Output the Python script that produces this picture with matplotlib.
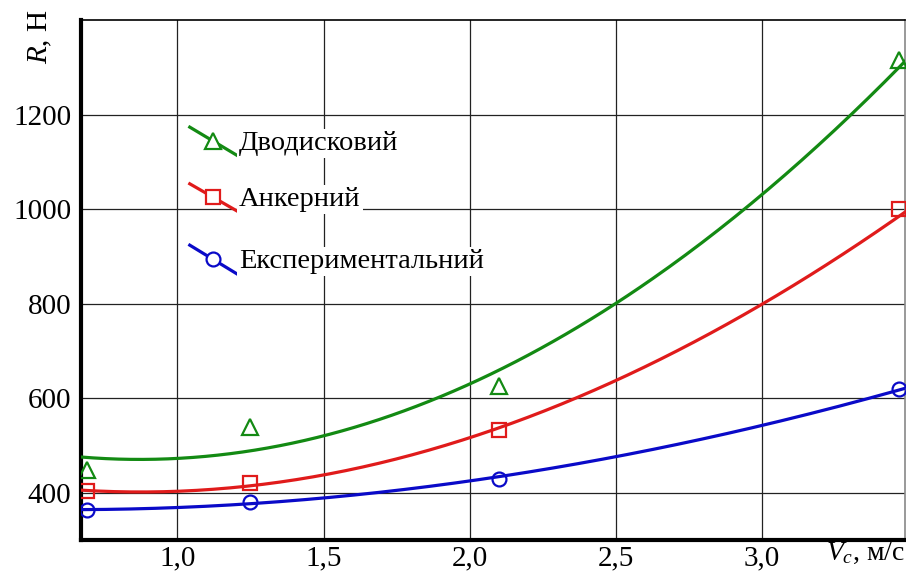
import numpy as np
import matplotlib
matplotlib.use("Agg")
import matplotlib.pyplot as plt

# measured points (speed, m/s -> resistance, N)
v_points = [0.69, 1.25, 2.1, 3.47]
r_dvodysk = [449, 539, 626, 1316]
r_anker = [404, 421, 532, 1000]
r_eksper = [363, 381, 430, 620]

# trend curves
v_curve = [0.67, 0.9, 1.0, 1.5, 1.886, 2.0, 2.5, 3.0, 3.49]
c_dvodysk = [475, 470, 474, 521, 600, 628, 800, 1032, 1312]
c_anker = [405, 402, 403, 439, 495, 514, 637, 800, 993]
c_eksper = [365, 366, 368, 389, 417, 424, 476, 542, 621]

labels = ["Дводисковий", "Анкерний", "Експериментальний"]
colors = ["#138a13", "#e01b1b", "#0a0ac8"]
markers = ["^", "s", "o"]
msizes = [11, 10, 10]

x_ticks = [1.0, 1.5, 2.0, 2.5, 3.0]
y_ticks = [400, 600, 800, 1000, 1200]

plt.rcParams["font.family"] = ["Liberation Serif", "DejaVu Serif"]
plt.rcParams["mathtext.fontset"] = "custom"
plt.rcParams["mathtext.rm"] = "Liberation Serif"
plt.rcParams["mathtext.it"] = "Liberation Serif:italic"

fig = plt.figure(figsize=(9.06, 5.81), dpi=100)
ax = fig.add_axes([81/906, 41/581, 824/906, 520/581])

xs = np.linspace(0.67, 3.49, 200)
series = [(r_dvodysk, c_dvodysk), (r_anker, c_anker), (r_eksper, c_eksper)]
for (pts, curve), col, mk, ms in zip(series, colors, markers, msizes):
    coef = np.polyfit(v_curve, curve, 3)
    ax.plot(xs, np.polyval(coef, xs), color=col, lw=2.3, zorder=3)
    ax.plot(v_points, pts, linestyle="none", marker=mk, markersize=ms,
            markerfacecolor="none", markeredgecolor=col, markeredgewidth=1.6, zorder=4)

ax.set_xlim(0.67, 3.49)
ax.set_ylim(300, 1400)
ax.set_xticks(x_ticks)
ax.set_xticklabels([("%.1f" % t).replace(".", ",") for t in x_ticks])
ax.set_yticks(y_ticks)
ax.tick_params(length=0, labelsize=21)
ax.tick_params(axis="y", pad=7)
ax.tick_params(axis="x", pad=4)
ax.grid(True, color="#222222", lw=0.9, zorder=1)

ax.spines["left"].set_linewidth(3)
ax.spines["bottom"].set_linewidth(3)
ax.spines["top"].set_linewidth(1.2)
ax.spines["right"].set_linewidth(1.2)
ax.spines["right"].set_color("#888888")

# hand-made legend with slanted line pieces
leg_y = [(0.794, 0.740), (0.685, 0.633), (0.567, 0.512)]
text_y = [0.763, 0.654, 0.535]
for lab, col, mk, ms, (y0, y1), ty in zip(labels, colors, markers, msizes, leg_y, text_y):
    ax.plot([0.132, 0.189], [y0, y1], color=col, lw=2.3, transform=ax.transAxes, zorder=5)
    ax.plot([0.1605], [(y0+y1)/2], marker=mk, markersize=ms,
            markerfacecolor="white", markeredgecolor=col, markeredgewidth=1.6,
            transform=ax.transAxes, zorder=6)
    ax.text(0.192, ty, lab, transform=ax.transAxes, fontsize=20.5, ha="left", va="center",
            bbox=dict(facecolor="white", edgecolor="none", pad=1.5), zorder=5)

fig.text(40/906, 1-37/581, "$R$, Н", rotation=90, ha="center", va="center", fontsize=21)
fig.text(826/906, 1-553/581, "$V_c$, м/с", ha="left", va="center", fontsize=20)

fig.savefig("out.png", dpi=100)
